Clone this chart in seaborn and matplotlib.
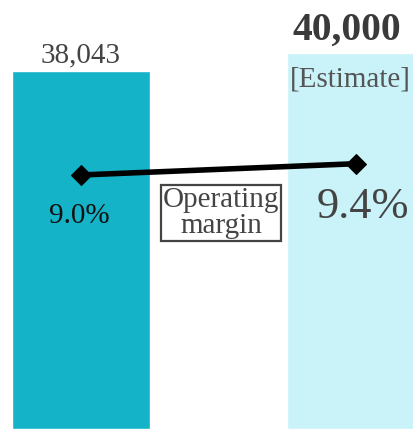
import matplotlib
matplotlib.use("Agg")
import matplotlib.pyplot as plt
import numpy as np
import pandas as pd
import seaborn as sns

# data
categories = ["Actual", "Estimate"]
sales = [38043, 40000]
margin = [9.0, 9.4]
sales_labels = ["38,043", "40,000"]
margin_labels = ["9.0%", "9.4%"]
bar_colors = ["#14b3c8", "#c9f3f9"]

sns.set_theme(style="white")
plt.rcParams["font.family"] = ["Liberation Serif", "DejaVu Serif"]

fig = plt.figure(figsize=(4.13, 4.29), dpi=100)
ax = fig.add_axes([0, 0, 1, 1])

df = pd.DataFrame({"cat": categories, "sales": sales})
sns.barplot(data=df, x="cat", y="sales", hue="cat", palette=bar_colors,
            width=0.5, legend=False, ax=ax, saturation=1)
ax.set_xlim(-0.2945, 1.207)
ax.set_ylim(0, 45587)
ax.axis("off")

# margin line on its own scale
ax2 = ax.twinx()
sns.lineplot(x=np.arange(len(margin)), y=margin, color="black", linewidth=4,
             marker="D", markersize=10.5, markeredgecolor="black", ax=ax2)
ax2.set_ylim(0, 15.2)
ax2.set_xlim(-0.2945, 1.207)
ax2.axis("off")

# bar value labels
ax.annotate(sales_labels[0], (0, sales[0]), xytext=(0, 6.5), textcoords="offset points",
            ha="center", va="baseline", fontsize=21, color="#444444")
ax.annotate(sales_labels[1], (1, sales[1]), xytext=(-6.5, 9.4), textcoords="offset points",
            ha="center", va="baseline", fontsize=28.5, fontweight="bold", color="#3a3a3a")
ax.annotate("[Estimate]", (1, sales[1]), xytext=(-4.3, -24.5), textcoords="offset points",
            ha="center", va="baseline", fontsize=21, color="#555555")

# margin labels
ax2.annotate(margin_labels[0], (0, margin[0]), xytext=(-1, -34.5), textcoords="offset points",
             ha="center", va="baseline", fontsize=21, color="#111111")
ax2.annotate(margin_labels[1], (1, margin[1]), xytext=(5, -39), textcoords="offset points",
             ha="center", va="baseline", fontsize=32, color="#444444")

fig.text(0.535, 0.503, "Operating\nmargin", ha="center", va="center", fontsize=21,
         color="#444444", linespacing=1.0,
         bbox=dict(boxstyle="square,pad=0.06", facecolor="white",
                   edgecolor="#444444", linewidth=1.6))

fig.savefig("out.png", dpi=100)
